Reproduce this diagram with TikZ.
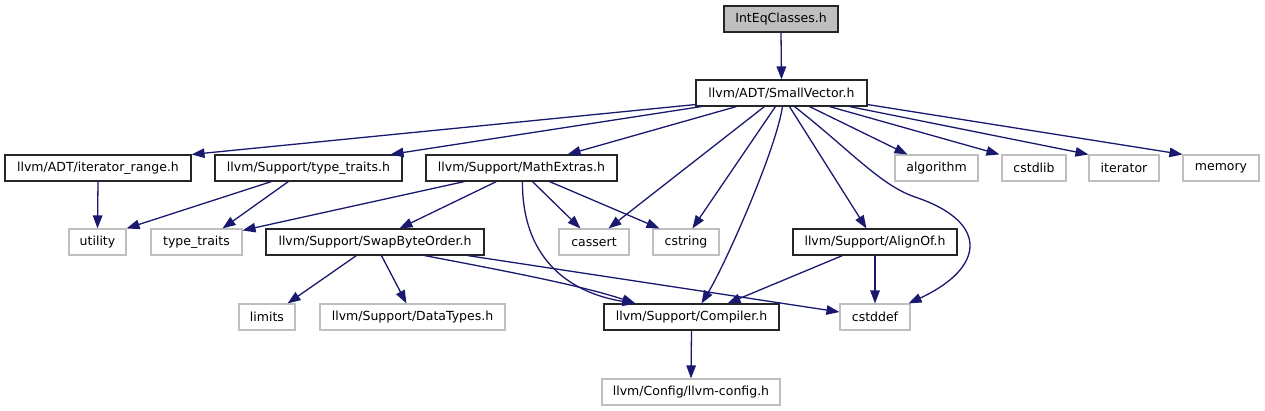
\documentclass[tikz,border=0pt]{standalone}
\usepackage{fontspec}
\setmainfont{DejaVu Sans}
\usetikzlibrary{arrows.meta,calc}
\definecolor{edgeblue}{HTML}{191970}
\definecolor{extgrey}{HTML}{BFBFBF}
\definecolor{rootfill}{HTML}{BFBFBF}
\tikzset{
  base/.style={draw, rectangle, inner sep=0pt, minimum height=26pt, line width=1.1pt, font=\fontsize{12.5}{15}\selectfont},
  hdr/.style={base, draw=black!85},
  ext/.style={base, draw=extgrey},
  root/.style={base, draw=black!85, fill=rootfill},
  edge/.style={draw=edgeblue, line width=1.3pt, -{Triangle[length=13pt,width=9.5pt]}}
}
\begin{document}
\begin{tikzpicture}[x=1pt,y=-1pt]
\useasboundingbox[fill=white] (0,0) rectangle (1265,411);
% nodes
\node[root, minimum width=114pt] (ieq) at (781,19) {IntEqClasses.h};
\node[hdr, minimum width=171pt] (sv) at (781.5,93) {llvm/ADT/SmallVector.h};
\node[hdr, minimum width=186pt] (itr) at (98,168) {llvm/ADT/iterator\_range.h};
\node[hdr, minimum width=187pt] (tth) at (308.5,168) {llvm/Support/type\_traits.h};
\node[hdr, minimum width=191pt] (mex) at (521.5,168) {llvm/Support/MathExtras.h};
\node[ext, minimum width=83pt] (alg) at (936.5,168) {algorithm};
\node[ext, minimum width=64pt] (csl) at (1034,168) {cstdlib};
\node[ext, minimum width=70pt] (itt) at (1124,168) {iterator};
\node[ext, minimum width=76pt] (mem) at (1221,168) {memory};
\node[ext, minimum width=57pt] (uti) at (97.5,242) {utility};
\node[ext, minimum width=91pt] (tt) at (196.5,242) {type\_traits};
\node[hdr, minimum width=218pt] (sbo) at (375,242) {llvm/Support/SwapByteOrder.h};
\node[ext, minimum width=70pt] (cas) at (594,242) {cassert};
\node[ext, minimum width=66pt] (cst) at (686,242) {cstring};
\node[hdr, minimum width=164pt] (ali) at (875,242) {llvm/Support/AlignOf.h};
\node[ext, minimum width=56pt] (lim) at (267,317) {limits};
\node[ext, minimum width=185pt] (dat) at (412.5,317) {llvm/Support/DataTypes.h};
\node[hdr, minimum width=175pt] (cmp) at (691.5,317) {llvm/Support/Compiler.h};
\node[ext, minimum width=70pt] (cdf) at (875,317) {cstddef};
\node[ext, minimum width=178pt] (cfg) at (691,392) {llvm/Config/llvm-config.h};
% edges
\draw[edge] (ieq.south) -- (sv.north);
\draw[edge] ([yshift=2pt]sv.south west) -- (itr.north east);
\draw[edge] ([xshift=6pt]sv.south west) -- ([xshift=-12pt]tth.north east);
\draw[edge] ([xshift=41pt]sv.south west) -- ([xshift=-50pt]mex.north east);
\draw[edge] ([xshift=69pt]sv.south west) -- ([xshift=50pt]cas.north west);
\draw[edge] ([xshift=80pt]sv.south west) -- ([xshift=40pt]cst.north west);
\draw[edge] ([xshift=87pt]sv.south west) .. controls (776,150) and (725,265) .. ([xshift=98pt]cmp.north west);
\draw[edge] ([xshift=94pt]sv.south west) -- ([xshift=74pt]ali.north west);
\draw[edge] ([xshift=99pt]sv.south west) .. controls (850,150) and (880,185) .. (915,197) .. controls (990,222) and (985,268) .. ([xshift=-2pt]cdf.north east);
\draw[edge] ([xshift=114pt]sv.south west) -- ([xshift=13pt]alg.north west);
\draw[edge] ([xshift=134pt]sv.south west) -- ([xshift=-2pt]csl.north west);
\draw[edge] ([xshift=154pt]sv.south west) -- (itt.north west);
\draw[edge] ([yshift=2pt]sv.south east) -- (mem.north west);
\draw[edge] (itr.south) -- (uti.north);
\draw[edge] ([xshift=57pt]tth.south west) -- (uti.north east);
\draw[edge] ([xshift=74pt]tth.south west) -- ([xshift=-20pt]tt.north east);
\draw[edge] ([xshift=39pt]mex.south west) -- ([yshift=-2pt]tt.north east);
\draw[edge] ([xshift=71pt]mex.south west) -- ([xshift=134pt]sbo.north west);
\draw[edge] ([xshift=107pt]mex.south west) -- ([xshift=22pt]cas.north west);
\draw[edge] ([xshift=124pt]mex.south west) -- ([xshift=7pt]cst.north west);
\draw[edge] ([xshift=97pt]mex.south west) .. controls (522,255) and (565,292) .. ([xshift=32pt]cmp.north west);
\draw[edge] ([xshift=91pt]sbo.south west) -- ([xshift=-8pt]lim.north east);
\draw[edge] ([xshift=116pt]sbo.south west) -- ([xshift=87pt]dat.north west);
\draw[edge] ([xshift=159pt]sbo.south west) .. controls (500,270) and (580,285) .. ([xshift=32pt]cmp.north west);
\draw[edge] ([xshift=202pt]sbo.south west) -- ([yshift=5pt]cdf.west);
\draw[edge] ([xshift=50pt]ali.south west) -- ([xshift=-52pt]cmp.north east);
\draw[edge] (ali.south) -- (cdf.north);
\draw[edge] (cmp.south) -- (cfg.north);
\end{tikzpicture}
\end{document}
